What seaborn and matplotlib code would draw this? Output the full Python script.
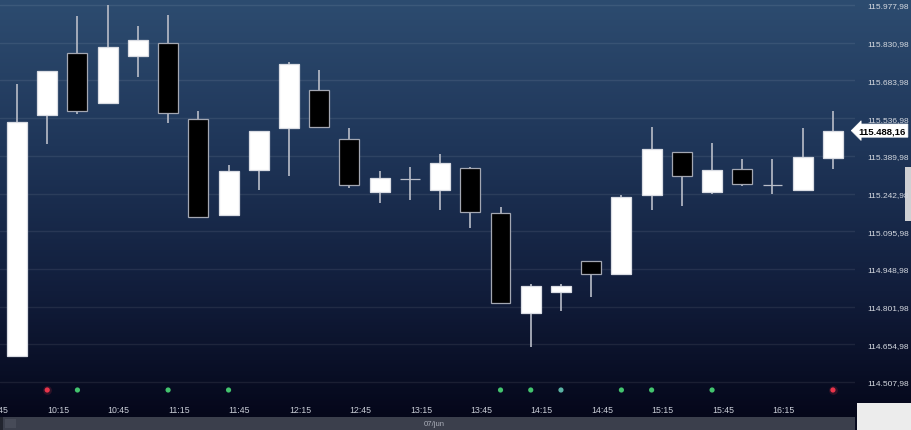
import numpy as np
import matplotlib
matplotlib.use("Agg")
import matplotlib.pyplot as plt
import matplotlib.transforms as mtransforms
from matplotlib.patches import Rectangle
from matplotlib.colors import LinearSegmentedColormap
import seaborn as sns

# ---------------- data ----------------
opens = [114609.4, 115549.1, 115790.8, 115596.0, 115779.0, 115829.8, 115533.5,
         115159.0, 115334.7, 115498.4, 115646.6, 115455.5, 115248.9, 115299.6,
         115256.7, 115342.5, 115167.0, 114777.1, 114859.0, 114979.9, 114929.2,
         115237.2, 115404.8, 115248.9, 115338.6, 115276.2, 115256.7, 115381.5]
closes = [115521.8, 115720.7, 115564.7, 115814.0, 115841.5, 115556.9, 115151.4,
          115330.8, 115486.7, 115748.0, 115502.3, 115276.2, 115303.5, 115299.6,
          115362.0, 115170.9, 114816.1, 114882.4, 114884.0, 114929.2, 115229.4,
          115416.5, 115311.3, 115334.7, 115280.1, 115276.2, 115385.4, 115488.16]
highs = [115670.0, 115720.7, 115935.0, 115978.0, 115896.0, 115939.0, 115564.7,
         115354.0, 115486.7, 115755.8, 115724.6, 115498.4, 115331.0, 115346.4,
         115397.0, 115346.0, 115190.4, 114890.0, 114890.0, 114979.9, 115237.0,
         115502.3, 115404.8, 115440.0, 115377.6, 115377.6, 115498.4, 115564.7]
lows = [114609.4, 115436.0, 115553.0, 115596.0, 115697.0, 115518.0, 115147.0,
        115159.0, 115256.7, 115311.3, 115502.3, 115264.5, 115206.0, 115217.7,
        115178.7, 115108.5, 114816.1, 114644.5, 114785.0, 114839.5, 114929.2,
        115178.7, 115194.3, 115241.0, 115272.0, 115241.0, 115256.7, 115338.6]

time_labels = ["09:45", "10:15", "10:45", "11:15", "11:45", "12:15", "12:45", "13:15",
               "13:45", "14:15", "14:45", "15:15", "15:45", "16:15"]
time_idx = [-1, 1, 3, 5, 7, 9, 11, 13, 15, 17, 19, 21, 23, 25]

signal_idx = [1, 2, 5, 7, 16, 17, 18, 20, 21, 23, 27]
signal_kind = ["sell", "buy", "buy", "buy", "buy", "buy", "neutral", "buy", "buy", "buy", "sell"]

ytick_vals = [114507.98 + 147.0 * k for k in range(11)]
last_price = 115488.16
date_label = "07/jun"

# ---------------- style ----------------
sns.set_theme(style="dark")
plt.rcParams['font.family'] = ['Liberation Sans', 'DejaVu Sans']

W, H = 911, 431
fig = plt.figure(figsize=(W / 100, H / 100), dpi=100)
fig.patch.set_facecolor('#070a1e')

# background (pixel coordinates)
bg = fig.add_axes([0, 0, 1, 1])
bg.set_axis_off()
bg.set_xlim(0, W)
bg.set_ylim(H, 0)
bg.set_zorder(-5)
cmap = LinearSegmentedColormap.from_list(
    'bg', [(0.0, '#2d4c70'), (0.35, '#1f3659'), (0.7, '#111d3b'), (1.0, '#05071a')])
grad = np.linspace(0, 1, 256).reshape(-1, 1)
bg.imshow(grad, aspect='auto', cmap=cmap, extent=[0, W, 418, 0], origin='upper')
bg.add_patch(Rectangle((0, 418), 855, 13, color='#3b3f4c', lw=0))
bg.add_patch(Rectangle((0, 418), 3, 13, color='#22252f', lw=0))
bg.add_patch(Rectangle((5, 420), 11, 9, color='#474b58', lw=0))
bg.add_patch(Rectangle((855, 418), 56, 13, color='#070a1e', lw=0))
bg.add_patch(Rectangle((857, 404), 54, 27, color='#ececec', lw=0))
bg.add_patch(Rectangle((905, 168), 6, 54, color='#cfd0d3', lw=0))
bg.text(424, 424.5, date_label, color='#a9adb8', fontsize=5.6, ha='left', va='center')

# main axes
ax = fig.add_axes([0, 31 / H, 855 / W, 400 / H])
ax.set_facecolor('none')
step = 1470.0 / 377.0
ytop = 115977.98 + 6 * step
ybot = 115977.98 - 394 * step
ax.set_ylim(ybot, ytop)
ax.set_xlim(-17 / 30.22, (855 - 17) / 30.22)

x = np.arange(len(opens))
o = np.array(opens); c = np.array(closes)
up = c >= o
body_low = np.minimum(o, c)
body_h = np.maximum(np.abs(c - o), 1.0)
fills = ['#ffffff' if u else '#000000' for u in up]
edges = ['#d9dce3' if u else '#a3a7b2' for u in up]
doji = np.abs(c - o) < 1.0
edges = ['#b9bdc8' if d else e for d, e in zip(doji, edges)]

ax.vlines(x, lows, highs, color='#b9bdc8', lw=1.2, zorder=2)
ax.bar(x, body_h, bottom=body_low, width=0.66, color=fills, edgecolor=edges,
       linewidth=0.9, zorder=3)

# signal dots
trans = mtransforms.blended_transform_factory(ax.transData, ax.transAxes)
colors_map = {"sell": '#e8344a', "buy": '#43c46e', "neutral": '#5bb3a4'}
ydot = ybot + 0.0225 * (ytop - ybot)
for i, k in zip(signal_idx, signal_kind):
    if k == "sell":
        ax.scatter([i], [ydot], s=40, color='#e8344a', alpha=0.18, lw=0, zorder=4)
sns.scatterplot(x=signal_idx, y=[ydot] * len(signal_idx), ax=ax,
                hue=signal_kind, palette=colors_map, s=14, linewidth=0,
                legend=False, zorder=5)

# time labels
for i, t in zip(time_idx, time_labels):
    ax.text(i, -0.0275, t, transform=trans, color='#c9cdd6', fontsize=6.3,
            ha='left', va='center', clip_on=False)

# y axis on the right
ax.set_yticks(ytick_vals)
ax.set_yticklabels([f"{v:,.2f}".replace(',', 'X').replace('.', ',').replace('X', '.')
                    for v in ytick_vals])
ax.yaxis.tick_right()
ax.tick_params(axis='y', length=0, pad=9.0, labelsize=6.0, labelcolor='#d5d9e0')
ax.set_xticks([])
ax.grid(axis='y', color='#ffffff', alpha=0.08, lw=1)
ax.grid(axis='x', visible=False)
for s in ax.spines.values():
    s.set_visible(False)

# last price tag
trans2 = mtransforms.blended_transform_factory(ax.transAxes, ax.transData)
lp = f"{last_price:,.2f}".replace(',', 'X').replace('.', ',').replace('X', '.')
ax.text(1.004, last_price, lp, transform=trans2, color='#000000', fontsize=6.8,
        fontweight='bold', ha='left', va='center', clip_on=False, zorder=10,
        bbox=dict(boxstyle='larrow,pad=0.22', fc='#ffffff', ec='#ffffff', lw=0.5))

fig.savefig('out.png', dpi=100)
